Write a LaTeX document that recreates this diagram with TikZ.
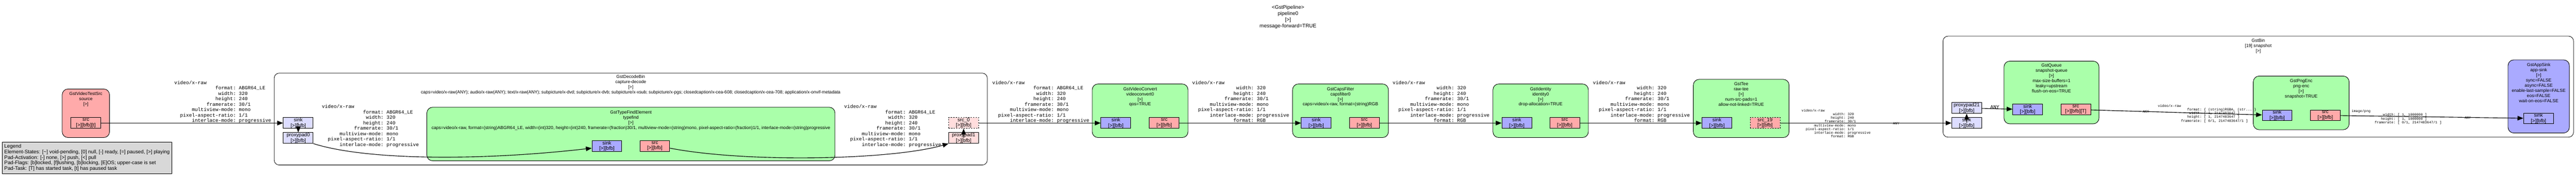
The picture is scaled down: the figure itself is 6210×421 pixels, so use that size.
\documentclass[tikz,border=0pt]{standalone}
\usepackage{fontspec}
\setmainfont{Liberation Sans}
\setmonofont{Liberation Mono}
\usetikzlibrary{positioning,arrows.meta}

\definecolor{filtergreen}{HTML}{AAFFAA}
\definecolor{srcred}{HTML}{FFAAAA}
\definecolor{sinkblue}{HTML}{AAAAFF}
\definecolor{ghostblue}{HTML}{DDDDFF}
\definecolor{ghostred}{HTML}{FFDDDD}
\definecolor{legendgray}{HTML}{D8D8D8}

% one caps field, key right aligned in 20 chars
\newcommand{\kv}[2]{\makebox[12em][r]{#1}: #2}
\newcommand{\rawabgr}{video/x-raw\\\kv{format}{ABGR64\_LE}\\\kv{width}{320}\\\kv{height}{240}\\\kv{framerate}{30/1}\\\kv{multiview-mode}{mono}\\\kv{pixel-aspect-ratio}{1/1}\\\kv{interlace-mode}{progressive}}
\newcommand{\rawrgb}{video/x-raw\\\kv{width}{320}\\\kv{height}{240}\\\kv{framerate}{30/1}\\\kv{multiview-mode}{mono}\\\kv{pixel-aspect-ratio}{1/1}\\\kv{interlace-mode}{progressive}\\\kv{format}{RGB}}

\begin{document}
\begin{tikzpicture}[x=1pt,y=-1pt,
    elem/.style={draw, line width=1.1pt, rounded corners=14pt, inner sep=0pt, fill=filtergreen},
    bin/.style={draw, line width=1pt, rounded corners=12pt, inner sep=0pt, fill=white},
    ttl/.style={inner sep=0pt, align=center, font=\fontsize{10.7}{12.4}\selectfont},
    pad/.style={draw, line width=1.1pt, inner sep=0pt, minimum width=72pt, minimum height=26pt, align=center, font=\fontsize{12}{13}\selectfont},
    sinkpad/.style={pad, fill=sinkblue},
    srcpad/.style={pad, fill=srcred},
    capslbl/.style={inner sep=0pt, align=left, anchor=north west, font=\fontsize{11.8}{13}\ttfamily},
    tinycaps/.style={capslbl, font=\fontsize{8.4}{9}\ttfamily},
    link/.style={line width=1.4pt, -{Triangle[length=14pt,width=11pt]}},
  ]
  \useasboundingbox (0,0) rectangle (6210,421);
  %pipeline
  \node[ttl, anchor=north, font=\fontsize{12.4}{14.6}\selectfont] (pipeT) at (3105,13) {<GstPipeline>\\pipeline0\\{[>]}\\message-forward=TRUE};
  %source
  \node[elem, fill=srcred, minimum width=114pt, minimum height=117pt] (source) at (207,272.5) {};
  \node[ttl, below=8pt of source.north] (sourceT) {GstVideoTestSrc\\source\\{[>]}};
  \node[srcpad] (srcP) at (207,296) {src\\{[>][bfb][t]}};
  %legend
  \node[draw, fill=legendgray, line width=1pt, anchor=north west, align=left, inner xsep=5pt, minimum height=76pt, font=\fontsize{12.2}{13.2}\selectfont] (legend) at (5,341) {Legend\\Element-States: [\textasciitilde] void-pending, [0] null, [-] ready, [=] paused, [>] playing\\Pad-Activation: [-] none, [>] push, [<] pull\\Pad-Flags: [b]locked, [f]lushing, [b]locking, [E]OS; upper-case is set\\Pad-Task: [T] has started task, [t] has paused task};
  %decodebin
  \node[bin, minimum width=1719pt, minimum height=221pt] (decode) at (1520.5,286.5) {};
  \node[ttl, below=5pt of decode.north] (decodeT) {GstDecodeBin\\capture-decode\\{[>]}\\caps=video/x-raw(ANY); audio/x-raw(ANY); text/x-raw(ANY); subpicture/x-dvd; subpicture/x-dvb; subpicture/x-xsub; subpicture/x-pgs; closedcaption/x-cea-608; closedcaption/x-cea-708; application/x-onvif-metadata};
  \node[pad, fill=ghostblue] (dbsink) at (719,296) {sink\\{[>][bfb]}};
  \node[pad, fill=ghostblue] (pp0) at (719,332) {proxypad0\\{[>][bfb]}};
  \node[elem, minimum width=984pt, minimum height=129pt] (typefind) at (1521,322.5) {};
  \node[ttl, below=8pt of typefind.north] (typefindT) {GstTypeFindElement\\typefind\\{[>]}\\caps=video/x-raw, format=(string)ABGR64\_LE, width=(int)320, height=(int)240, framerate=(fraction)30/1, multiview-mode=(string)mono, pixel-aspect-ratio=(fraction)1/1, interlace-mode=(string)progressive};
  \node[sinkpad] (tfsink) at (1463,351.5) {sink\\{[>][bfb]}};
  \node[srcpad] (tfsrc) at (1578.5,351.5) {src\\{[>][bfb]}};
  \node[pad, fill=ghostred, dashed] (src0) at (2323,296) {src\_0\\{[>][bfb]}};
  \node[pad, fill=ghostred] (pp1) at (2323,332) {proxypad1\\{[>][bfb]}};
  %videoconvert
  \node[elem, minimum width=231pt, minimum height=129pt] (vconv) at (2748.5,266.5) {};
  \node[ttl, below=8pt of vconv.north] (vconvT) {GstVideoConvert\\videoconvert0\\{[>]}\\qos=TRUE};
  \node[sinkpad] (vcsink) at (2690,296) {sink\\{[>][bfb]}};
  \node[srcpad] (vcsrc) at (2806.5,296) {src\\{[>][bfb]}};
  %capsfilter
  \node[elem, minimum width=231pt, minimum height=129pt] (capsf) at (3231.5,266.5) {};
  \node[ttl, below=8pt of capsf.north] (capsfT) {GstCapsFilter\\capsfilter0\\{[>]}\\caps=video/x-raw, format=(string)RGB};
  \node[sinkpad] (cfsink) at (3173,296) {sink\\{[>][bfb]}};
  \node[srcpad] (cfsrc) at (3289,296) {src\\{[>][bfb]}};
  %identity
  \node[elem, minimum width=230pt, minimum height=129pt] (ident) at (3714,266.5) {};
  \node[ttl, below=8pt of ident.north] (identT) {GstIdentity\\identity0\\{[>]}\\drop-allocation=TRUE};
  \node[sinkpad] (idsink) at (3656.5,296) {sink\\{[>][bfb]}};
  \node[srcpad] (idsrc) at (3772,296) {src\\{[>][bfb]}};
  %tee
  \node[elem, minimum width=231pt, minimum height=140pt] (tee) at (4197.5,261) {};
  \node[ttl, below=7pt of tee.north] (teeT) {GstTee\\raw-tee\\{[>]}\\num-src-pads=1\\allow-not-linked=TRUE};
  \node[sinkpad] (teesink) at (4139,296) {sink\\{[>][bfb]}};
  \node[srcpad, dashed] (teesrc) at (4255,296) {src\_19\\{[>][bfb]}};
  %snapshot bin
  \node[bin, minimum width=1520pt, minimum height=243pt] (snap) at (5444,208.5) {};
  \node[ttl, below=7pt of snap.north] (snapT) {GstBin\\{[19]} snapshot\\{[>]}};
  \node[pad, fill=ghostblue] (snapsink) at (4741,296) {sink\\{[>][bfb]}};
  \node[pad, fill=ghostblue] (pp21) at (4741,260) {proxypad21\\{[>][bfb]}};
  \node[elem, minimum width=229pt, minimum height=151pt] (queue) at (4945.5,222.5) {};
  \node[ttl, below=7pt of queue.north] (queueT) {GstQueue\\snapshot-queue\\{[>]}\\max-size-buffers=1\\leaky=upstream\\flush-on-eos=TRUE};
  \node[sinkpad] (qsink) at (4888,263.5) {sink\\{[>][bfb]}};
  \node[srcpad] (qsrc) at (5004,263.5) {src\\{[>][bfb][T]}};
  \node[elem, minimum width=231pt, minimum height=129pt] (png) at (5547.5,247.5) {};
  \node[ttl, below=8pt of png.north] (pngT) {GstPngEnc\\png-enc\\{[>]}\\snapshot=TRUE};
  \node[sinkpad] (pngsink) at (5489.5,277.5) {sink\\{[>][bfb]}};
  \node[srcpad] (pngsrc) at (5605.5,277.5) {src\\{[>][bfb]}};
  \node[elem, fill=sinkblue, minimum width=148pt, minimum height=176pt] (appsink) at (6120,232) {};
  \node[ttl, below=8pt of appsink.north] (appsinkT) {GstAppSink\\app-sink\\{[>]}\\sync=FALSE\\async=FALSE\\enable-last-sample=FALSE\\eos=FALSE\\wait-on-eos=FALSE};
  \node[sinkpad] (asink) at (6119.5,285) {sink\\{[>][bfb]}};
  %caps labels
  \node[capslbl] (capsA) at (420,194) {\rawabgr};
  \node[capslbl] (capsB) at (776,252) {\rawabgr};
  \node[capslbl] (capsC) at (2035,252) {\rawabgr};
  \node[capslbl] (capsD) at (2392,194) {\rawabgr};
  \node[capslbl] (capsE) at (2874,194) {\rawrgb};
  \node[capslbl] (capsF) at (3357,194) {\rawrgb};
  \node[capslbl] (capsG) at (3840,194) {\rawrgb};
  \node[tinycaps] (capsH) at (4343,262) {\rawrgb};
  \node[tinycaps, anchor=center] (anyH) at (4571,297) {ANY};
  \node[capslbl, anchor=center] (anyI) at (4809,257) {ANY};
  \node[tinycaps] (capsJ) at (5202,251) {video/x-raw\\\kv{format}{\{ (string)RGBA, (str... \}}\\\kv{width}{[ 1, 2147483647 ]}\\\kv{height}{[ 1, 2147483647 ]}\\\kv{framerate}{[ 0/1, 2147483647/1 ]}};
  \node[tinycaps, anchor=center] (anyJ) at (5173,269) {ANY};
  \node[tinycaps] (capsK) at (5669,264) {image/png\\\kv{width}{[ 1, 1000000 ]}\\\kv{height}{[ 1, 1000000 ]}\\\kv{framerate}{[ 0/1, 2147483647/1 ]}};
  \node[tinycaps, anchor=center] (anyK) at (5949,284) {ANY};
  %links
  \draw[link] (srcP) -- (dbsink);
  \draw[link] (dbsink.center) -- (pp0.north);
  \draw[link] (pp0.south east) .. controls (880,385) and (1150,388) .. ([yshift=-5pt]tfsink.west);
  \draw[link] ([yshift=-5pt]tfsrc.east) .. controls (1800,392) and (2150,385) .. (pp1.south west);
  \draw[link] (pp1.center) -- (src0.south);
  \draw[link] (src0) -- (vcsink);
  \draw[link] (vcsrc) -- (cfsink);
  \draw[link] (cfsrc) -- (idsink);
  \draw[link] (idsrc) -- (teesink);
  \draw[link] (teesrc) -- (snapsink);
  \draw[link] (snapsink.center) -- (pp21.south);
  \draw[link] (pp21) -- (qsink);
  \draw[link] (qsrc) -- (pngsink);
  \draw[link] (pngsrc) -- (asink);
\end{tikzpicture}
\end{document}
